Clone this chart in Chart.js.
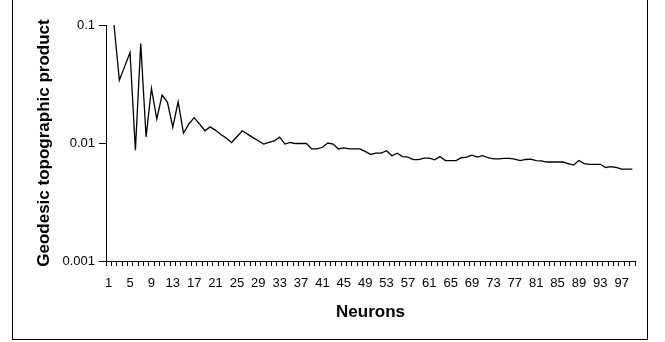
<!DOCTYPE html>
<html>
<head>
<meta charset="utf-8">
<script src="https://cdn.jsdelivr.net/npm/chart.js@4.4.1/dist/chart.umd.min.js"></script>
<style>
  body { margin: 0; background: #fff; }
  #wrap { position: relative; width: 665px; height: 342px; overflow: hidden; }
  #frame { position: absolute; left: 12px; top: -2px; width: 636px; height: 342px; box-sizing: border-box; border: 1px solid #000; pointer-events: none; }
</style>
</head>
<body>
<div id="wrap">
  <canvas id="myChart" width="665" height="342"></canvas>
  <div id="frame"></div>
</div>
<script>
// neurons on the x axis
var neurons = [1, 2, 3, 4, 5, 6, 7, 8, 9, 10, 11, 12, 13, 14, 15, 16, 17, 18, 19, 20,
  21, 22, 23, 24, 25, 26, 27, 28, 29, 30, 31, 32, 33, 34, 35, 36, 37, 38, 39, 40,
  41, 42, 43, 44, 45, 46, 47, 48, 49, 50, 51, 52, 53, 54, 55, 56, 57, 58, 59, 60,
  61, 62, 63, 64, 65, 66, 67, 68, 69, 70, 71, 72, 73, 74, 75, 76, 77, 78, 79, 80,
  81, 82, 83, 84, 85, 86, 87, 88, 89, 90, 91, 92, 93, 94, 95, 96, 97, 98, 99];

// geodesic topographic product (no value for a single neuron)
var topoProduct = [null, 0.1, 0.0341, 0.0446, 0.0585, 0.0087, 0.0695, 0.01125, 0.029, 0.016,
  0.0255, 0.0221, 0.0136, 0.0224, 0.0121, 0.0145, 0.0164, 0.0145, 0.0127, 0.0137,
  0.0128, 0.0118, 0.011, 0.0101, 0.0113, 0.0127, 0.0119, 0.0111, 0.01045, 0.0098,
  0.0101, 0.0104, 0.0112, 0.0098, 0.0101, 0.0099, 0.0099, 0.0099, 0.0089, 0.0089,
  0.0092, 0.01, 0.0098, 0.0089, 0.0091, 0.0089, 0.0089, 0.0089, 0.0085, 0.008,
  0.0082, 0.0082, 0.0086, 0.0078, 0.0082, 0.00767, 0.0076, 0.00723, 0.00723, 0.00743,
  0.00743, 0.0072, 0.00767, 0.0071, 0.0071, 0.0071, 0.0075, 0.0076, 0.0079, 0.0076,
  0.0078, 0.0075, 0.00735, 0.00735, 0.0074, 0.0074, 0.0073, 0.0071, 0.00725, 0.0073,
  0.0071, 0.00705, 0.0069, 0.0069, 0.0069, 0.0069, 0.0067, 0.0065, 0.0071, 0.0067,
  0.0066, 0.0066, 0.0066, 0.0062, 0.0063, 0.0062, 0.006, 0.006, 0.006];

var yTicks = [0.001, 0.01, 0.1];
var labelEvery = 4;

var ctx = document.getElementById("myChart");
var topoChart = new Chart(ctx, {
    type: 'line',
    data: {
        labels: neurons,
        datasets: [{
            data: topoProduct,
            borderColor: '#000',
            borderWidth: 1.3,
            pointRadius: 0,
            tension: 0,
            fill: false
        }]
    },
    options: {
        responsive: false,
        animation: false,
        layout: { padding: { left: 0, right: 30, top: 25, bottom: 0 } },
        plugins: {
            legend: { display: false },
            tooltip: { enabled: false }
        },
        scales: {
            x: {
                type: 'category',
                offset: true,
                afterFit: function (scale) { scale.height = 81; },
                grid: {
                    offset: true,
                    drawOnChartArea: false,
                    drawTicks: true,
                    tickLength: 5,
                    color: '#000'
                },
                border: { display: true, color: '#000', width: 1 },
                ticks: {
                    autoSkip: false,
                    maxRotation: 0,
                    minRotation: 0,
                    padding: 10,
                    color: '#000',
                    font: { family: 'Liberation Sans, Arial, sans-serif', size: 13 },
                    callback: function (val, index) {
                        return index % labelEvery === 0 ? this.getLabelForValue(val) : '';
                    }
                },
                title: {
                    display: true,
                    text: 'Neurons',
                    color: '#000',
                    font: { family: 'Liberation Sans, Arial, sans-serif', size: 17, weight: 'bold' },
                    padding: { top: 0, bottom: 19 }
                }
            },
            y: {
                type: 'logarithmic',
                min: 0.001,
                max: 0.1,
                afterFit: function (scale) { scale.width = 106; },
                afterBuildTicks: function (scale) {
                    scale.ticks = yTicks.map(function (v) { return { value: v }; });
                },
                grid: {
                    drawOnChartArea: false,
                    drawTicks: true,
                    tickLength: 7,
                    color: '#000'
                },
                border: { display: true, color: '#000', width: 1 },
                ticks: {
                    padding: 4,
                    color: '#000',
                    font: { family: 'Liberation Sans, Arial, sans-serif', size: 13 },
                    callback: function (val) { return String(val); }
                },
                title: {
                    display: true,
                    text: 'Geodesic topographic product',
                    color: '#000',
                    font: { family: 'Liberation Sans, Arial, sans-serif', size: 17, weight: 'bold' },
                    padding: { top: 34, bottom: 0 }
                }
            }
        }
    }
});
</script>
</body>
</html>
